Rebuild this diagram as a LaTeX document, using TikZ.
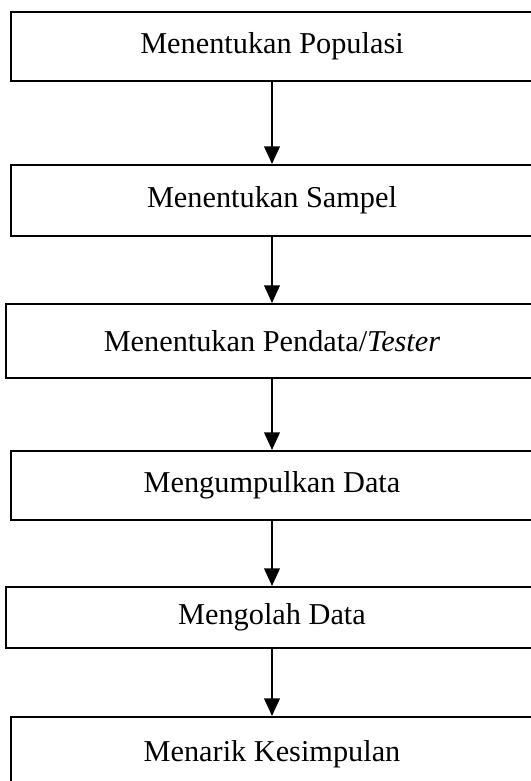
\documentclass[tikz,border=0pt]{standalone}
\usepackage{fontspec}
\setmainfont{Liberation Serif}
\usepackage{tikz}
\usetikzlibrary{arrows.meta,positioning}

\begin{document}
\begin{tikzpicture}[
  x=0.396pt, y=-0.396pt,
  stage/.style={draw, line width=0.8pt, minimum width=522*0.396pt, minimum height=69*0.396pt, align=center, font=\fontsize{12}{14}\selectfont, inner sep=0pt},
  flow/.style={-{Triangle[length=7pt,width=6.2pt]}, line width=0.8pt},
]
\useasboundingbox (0,0) rectangle (531,781);
% Step 1
\node[stage] (s1) at (272,46.5) {Menentukan Populasi};
% Step 2
\node[stage, minimum height=71*0.396pt] (s2) at (272,200.5) {Menentukan Sampel};
% Step 3
\node[stage, minimum width=532*0.396pt, minimum height=74*0.396pt] (s3) at (272,341) {Menentukan Pendata/\textit{Tester}};
% Step 4
\node[stage] (s4) at (272,485.5) {Mengumpulkan Data};
% Step 5
\node[stage, minimum width=532*0.396pt, minimum height=61*0.396pt] (s5) at (272,617.5) {Mengolah Data};
% Step 6
\node[stage, minimum height=74*0.396pt] (s6) at (272,754) {Menarik Kesimpulan};
% Arrows
\draw[flow] (s1) -- (s2);
\draw[flow] (s2) -- (s3);
\draw[flow] (s3) -- (s4);
\draw[flow] (s4) -- (s5);
\draw[flow] (s5) -- (s6);
\end{tikzpicture}
\end{document}
